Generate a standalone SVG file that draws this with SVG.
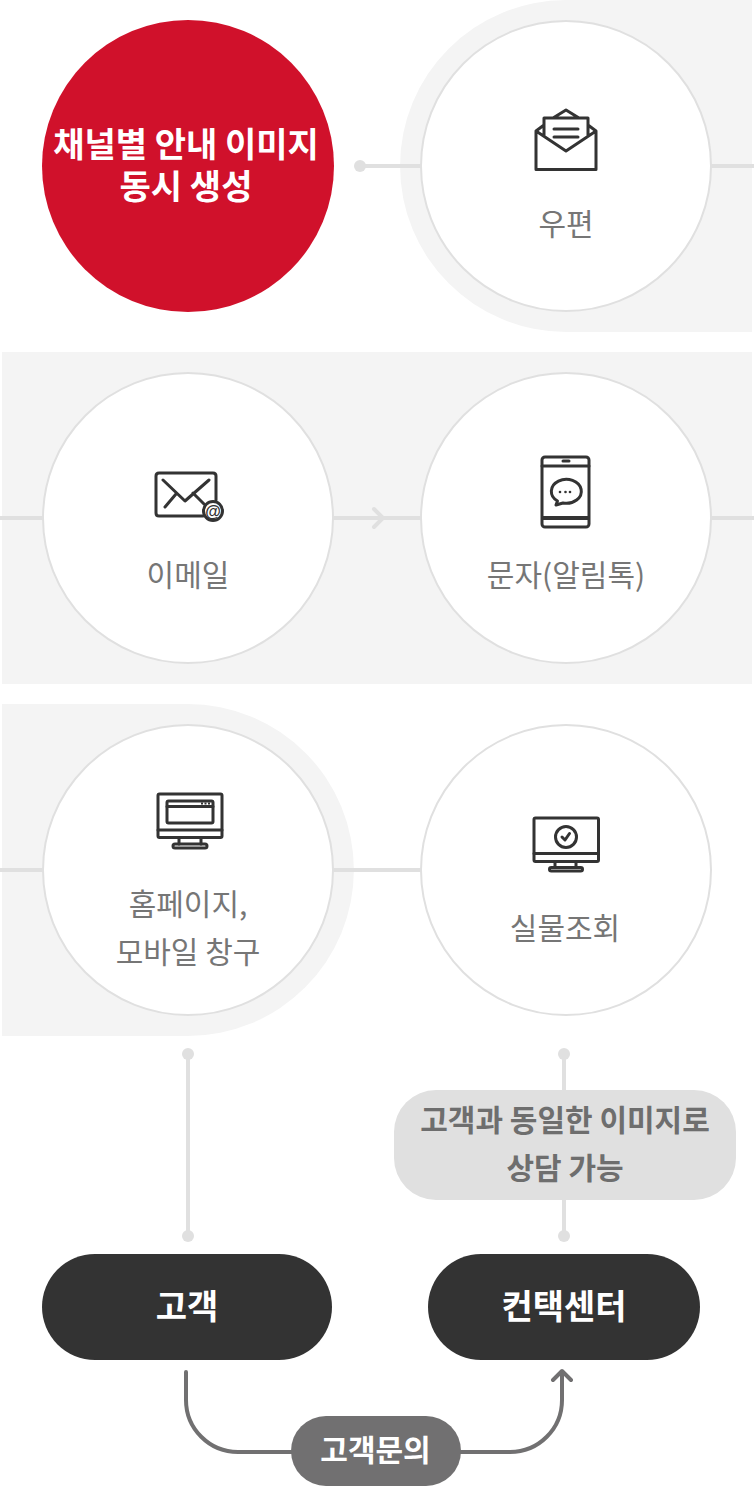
<svg xmlns="http://www.w3.org/2000/svg" width="754" height="1486" viewBox="0 0 754 1486">
<style>
text{font-family:"Noto Sans CJK KR","Noto Sans",sans-serif;text-anchor:middle}
.bg{fill:#f4f4f4}
.c{fill:#fff;stroke:#e0e0e0;stroke-width:2}
.l{fill:none;stroke:#e0e0e0;stroke-width:4}
.d{fill:#e0e0e0}
.i{fill:none;stroke:#333;stroke-width:3;stroke-linejoin:round;stroke-linecap:round}
.t{font-size:30px;fill:#767676}
.w{fill:#fff;font-weight:700}
</style>
<g id="backgrounds">
<path class="bg" d="M752 0H566A166 166 0 0 0 566 332H752Z"/>
<rect class="bg" x="2" y="352" width="750" height="332"/>
<path class="bg" d="M2 704H188A166 166 0 0 1 188 1036H2Z"/>
</g>
<g id="connectors">
<path class="l" d="M360 166H422M710 166H754M0 518H44M332 518H422M710 518H754M0 870H44M332 870H422M188 1054V1236M564 1054V1236"/>
<path class="l" d="M374 509L383 518L374 527" stroke-linecap="round"/>
<circle class="d" cx="360" cy="166" r="6"/>
<circle class="d" cx="188" cy="1054" r="6"/>
<circle class="d" cx="188" cy="1236" r="6"/>
<circle class="d" cx="564" cy="1054" r="6"/>
<circle class="d" cx="564" cy="1236" r="6"/>
<path d="M186 1372V1400A52 52 0 0 0 238 1452H510A52 52 0 0 0 562 1400V1372M553 1380L562 1371L571 1380" fill="none" stroke="#717071" stroke-width="4" stroke-linecap="round" stroke-linejoin="round"/>
</g>
<g id="node-channel">
<circle cx="188" cy="166" r="146" fill="#d0112b"/>
<text class="w" font-size="34"><tspan x="186" y="157">채널별 안내 이미지</tspan><tspan x="186" y="199">동시 생성</tspan></text>
</g>
<g id="node-mail">
<circle class="c" cx="566" cy="166" r="145"/>
<path class="i" d="M536 131L566 151L596 131V169.500H536ZM553 118L566 110L579 118M536 131L544 125M596 131L588 125M544 136V118H588V136M554 129H578M554 137H578"/>
<text class="t" x="566" y="235">우편</text>
</g>
<g id="node-email">
<circle class="c" cx="188" cy="518" r="145"/>
<path class="i" d="M203 516H159Q156 516 156 513V476Q156 473 159 473H213Q216 473 216 476V500M163 480L185 501L209 480M165 507L176 494M193 493L204 504"/>
<circle class="i" cx="213" cy="511" r="9.500"/>
<text x="213" y="516.500" font-size="16" fill="#333" font-weight="700" style="font-family:'Liberation Sans',sans-serif">@</text>
<text class="t" x="188" y="586">이메일</text>
</g>
<g id="node-sms">
<circle class="c" cx="566" cy="518" r="145"/>
<rect class="i" x="542" y="457" width="47" height="70" rx="3"/>
<path class="i" d="M542 466H589M563 461H569"/>
<path d="M542 518H589" stroke="#333" stroke-width="4"/>
<path class="i" d="M556 505L557.500 501A15 12 0 1 1 563 503Z"/>
<circle cx="560" cy="492" r="1.300" fill="#333"/>
<circle cx="565.500" cy="492" r="1.300" fill="#333"/>
<circle cx="570" cy="492" r="1.300" fill="#333"/>
<text class="t" x="566" y="586">문자(알림톡)</text>
</g>
<g id="node-home">
<circle class="c" cx="188" cy="870" r="145"/>
<rect class="i" x="158" y="794" width="64" height="43.500" rx="1.500"/>
<rect class="i" x="167" y="801" width="46" height="22" rx="1.500"/>
<path class="i" d="M158 830H222M167 806.500H213M179 838V844M201 838V844"/>
<rect class="i" x="173" y="844" width="34" height="4" rx="2"/>
<path d="M201 803.500H210" stroke="#333" stroke-width="2" stroke-dasharray="2 1.500"/>
<text class="t" x="188" y="915">홈페이지,</text>
<text class="t" x="188" y="963">모바일 창구</text>
</g>
<g id="node-check">
<circle class="c" cx="566" cy="870" r="145"/>
<rect class="i" x="534" y="818" width="64.500" height="43.500" rx="1.500"/>
<path class="i" d="M534 853.500H598M555 862V867M576 862V867"/>
<rect class="i" x="549.500" y="867.500" width="33" height="3.500" rx="1.750"/>
<circle class="i" cx="566" cy="837" r="10.500"/>
<path class="i" d="M562 837L565 840L569.500 833.500"/>
<text class="t" x="565" y="939">실물조회</text>
</g>
<g id="note">
<rect x="394" y="1090" width="342" height="110" rx="42" fill="#e0e0e0"/>
<text x="565" y="1131" font-size="30" font-weight="700" fill="#6e6e6e">고객과 동일한 이미지로</text>
<text x="565" y="1179" font-size="30" font-weight="700" fill="#6e6e6e">상담 가능</text>
</g>
<g id="node-customer">
<rect x="42" y="1254" width="290" height="106" rx="53" fill="#333"/>
<text class="w" x="187" y="1319" font-size="34">고객</text>
</g>
<g id="node-center">
<rect x="428" y="1254" width="272" height="106" rx="53" fill="#333"/>
<text class="w" x="564" y="1319" font-size="34">컨택센터</text>
</g>
<g id="node-inquiry">
<rect x="291" y="1416" width="170" height="70" rx="35" fill="#717071"/>
<text class="w" x="375.500" y="1461" font-size="30">고객문의</text>
</g>
</svg>
